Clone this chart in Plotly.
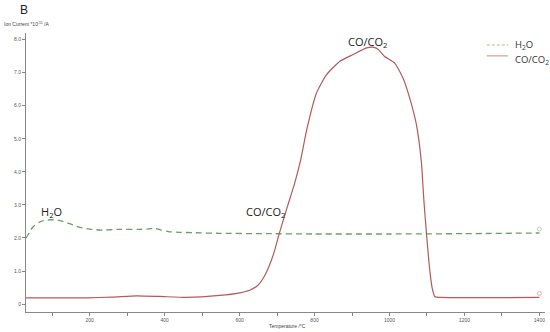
import plotly.graph_objects as go

# H2O series (temperature °C, ion current *1e-11 A)
h2o_temp = [30, 49, 70, 94, 115, 129, 150, 174, 200, 227, 281, 330, 352, 372, 390, 410, 440, 476, 547, 672, 800, 1000, 1200, 1400]
h2o_val = [1.99, 2.34, 2.50, 2.55, 2.54, 2.50, 2.42, 2.32, 2.27, 2.24, 2.26, 2.26, 2.27, 2.29, 2.24, 2.19, 2.17, 2.16, 2.14, 2.13, 2.12, 2.12, 2.13, 2.15]

# CO/CO2 series
co_temp = [30, 192, 260, 325, 387, 458, 547, 600, 627, 648, 665, 680, 693, 705, 729, 747, 763, 779, 805, 832, 867, 903,
           939, 956, 970, 987, 1014, 1036, 1054, 1072, 1085, 1092, 1099, 1107, 1114, 1121, 1135, 1400]
co_val = [0.19, 0.19, 0.21, 0.25, 0.23, 0.20, 0.26, 0.34, 0.42, 0.56, 0.82, 1.18, 1.60, 2.10, 3.00, 3.66, 4.36, 5.27, 6.38,
          6.94, 7.34, 7.55, 7.75, 7.77, 7.70, 7.49, 7.29, 6.84, 6.23, 5.42, 4.31, 3.10, 2.09, 1.08, 0.48, 0.22, 0.20, 0.20]

y_tickvals = [0, 1, 2, 3, 4, 5, 6, 7, 8]
y_ticktext = ["0", "1.0", "2.0", "3.0", "4.0", "5.0", "6.0", "7.0", "8.0"]

green = "#6a9f68"
red = "#b45a5c"
font = "Liberation Sans, Arial, sans-serif"
label_font = "Open Sans, Liberation Sans, sans-serif"

fig = go.Figure()
fig.add_trace(go.Scatter(x=h2o_temp, y=h2o_val, mode="lines", name="H2O",
                         line=dict(color=green, width=1.3, dash="6px,4px", shape="spline", smoothing=0.6)))
fig.add_trace(go.Scatter(x=co_temp, y=co_val, mode="lines", name="CO/CO2",
                         line=dict(color=red, width=1.2, shape="spline", smoothing=0.5)))
# small end markers
fig.add_trace(go.Scatter(x=[h2o_temp[-1], co_temp[-1]], y=[h2o_val[-1] + 0.12, co_val[-1] + 0.12], mode="markers",
                         marker=dict(symbol="circle-open", size=4, color=["#a8c8a8", "#d8a0a0"], line=dict(width=0.8)),
                         showlegend=False, hoverinfo="skip"))

fig.update_layout(
    width=550, height=332,
    margin=dict(l=26, r=5, t=33, b=20),
    paper_bgcolor="white", plot_bgcolor="white",
    font=dict(family=font, size=5, color="#555555"),
    showlegend=False,
    xaxis=dict(range=[30, 1415], tick0=200, dtick=200, ticks="outside", ticklen=3,
               minor=dict(dtick=100, tick0=100, ticks="outside", ticklen=3, tickcolor="#888888", showgrid=False),
               tickcolor="#888888", showline=True, linecolor="#888888", linewidth=1, showgrid=False, zeroline=False,
               tickfont=dict(size=5, color="#555555")),
    yaxis=dict(range=[-0.24, 8.2], tickvals=y_tickvals, ticktext=y_ticktext, ticks="outside", ticklen=3,
               tickcolor="#888888", showline=True, linecolor="#888888", linewidth=1, showgrid=False, zeroline=False,
               tickfont=dict(size=5, color="#555555")),
    shapes=[
        dict(type="line", xref="paper", yref="paper", x0=0.888, x1=0.929, y0=0.957, y1=0.957,
             line=dict(color="#9cc39c", width=1, dash="3px,2px")),
        dict(type="line", xref="paper", yref="paper", x0=0.888, x1=0.929, y0=0.918, y1=0.918,
             line=dict(color="#c98a8a", width=1)),
    ],
    annotations=[
        dict(text="B", xref="paper", yref="paper", x=-0.004, y=1.0, yshift=23, xanchor="center", yanchor="middle",
             showarrow=False, font=dict(family=font, size=12, color="#222222")),
        dict(text="Ion Current *10<sup>-11</sup> /A", xref="paper", yref="paper", x=0.002, y=1.0, yshift=9,
             xanchor="center", yanchor="middle", showarrow=False, font=dict(family=font, size=5, color="#444444")),
        dict(text="Temperature /°C", xref="paper", yref="paper", x=0.503, y=0, yshift=-14,
             xanchor="center", yanchor="middle", showarrow=False, font=dict(family=font, size=5, color="#444444")),
        dict(text="H<sub>2</sub>O", xref="paper", yref="paper", x=0.938, y=0.957, xanchor="left", yanchor="middle",
             showarrow=False, font=dict(family=label_font, size=9.5, color="#333333")),
        dict(text="CO/CO<sub>2</sub>", xref="paper", yref="paper", x=0.938, y=0.905, xanchor="left", yanchor="middle",
             showarrow=False, font=dict(family=label_font, size=9.5, color="#333333")),
        dict(text="H<sub>2</sub>O", x=99, y=2.79, showarrow=False, font=dict(family=label_font, size=11, color="#222222")),
        dict(text="CO/CO<sub>2</sub>", x=668, y=2.79, showarrow=False, font=dict(family=label_font, size=11, color="#222222")),
        dict(text="CO/CO<sub>2</sub>", x=942, y=7.94, showarrow=False, font=dict(family=label_font, size=11, color="#222222")),
    ],
)

fig.write_html("out.html", config={"displayModeBar": False}, post_script="document.body.style.margin='0';")
